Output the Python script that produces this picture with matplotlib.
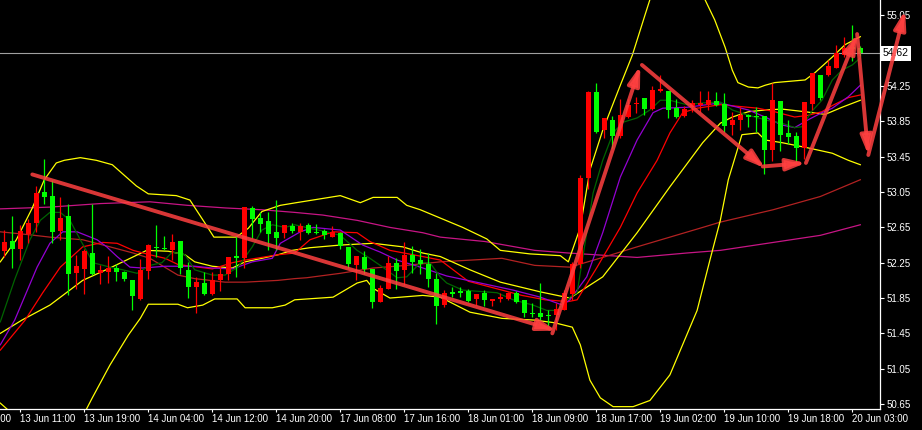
import numpy as np
import matplotlib
matplotlib.use("Agg")
import matplotlib.pyplot as plt
import matplotlib.transforms as mtransforms

# hourly bars, MT4 style colours: red = close above open, green = close below open
OPEN = [52.38, 52.50, 52.40, 52.58, 52.70, 53.05, 53.01, 52.61, 52.78, 52.13,
        52.18, 52.36, 52.13, 52.15, 52.19, 52.14, 52.06, 51.84, 52.16, 52.43,
        52.41, 52.39, 52.50, 52.17, 51.98, 52.02, 51.90, 52.06, 52.12, 52.33,
        52.30, 52.87, 52.76, 52.72, 52.60, 52.59, 52.67, 52.60, 52.68, 52.60,
        52.61, 52.54, 52.59, 52.43, 52.22, 52.32, 52.18, 51.81, 51.95, 52.25,
        52.17, 52.34, 52.28, 52.23, 52.07, 51.77, 51.92, 51.93, 51.93, 51.84,
        51.91, 51.82, 51.84, 51.84, 51.91, 51.83, 51.68, 51.68, 51.66, 51.66,
        51.72, 51.90, 52.24, 53.21, 54.18, 53.75, 53.87, 53.69, 53.90, 54.05,
        54.11, 53.99, 54.20, 54.19, 54.00, 53.91, 54.01, 54.04, 54.04, 54.08,
        54.05, 53.81, 53.87, 53.92, 53.91, 53.91, 53.53, 54.08, 53.72, 53.68,
        53.55, 54.05, 54.38, 54.38, 54.45, 54.60, 54.69, 54.68]
HIGH = [52.62, 52.78, 52.68, 52.74, 53.12, 53.43, 53.19, 52.99, 52.92, 52.34,
        52.41, 52.92, 52.22, 52.33, 52.24, 52.16, 52.06, 52.29, 52.46, 52.68,
        52.55, 52.58, 52.50, 52.26, 52.09, 52.15, 52.14, 52.21, 52.31, 52.56,
        52.88, 52.89, 52.82, 52.82, 52.96, 52.68, 52.70, 52.70, 52.70, 52.69,
        52.63, 52.67, 52.60, 52.43, 52.33, 52.38, 52.18, 52.00, 52.33, 52.30,
        52.48, 52.44, 52.40, 52.36, 52.13, 51.94, 51.98, 51.98, 51.95, 51.90,
        51.94, 51.84, 51.91, 51.92, 51.93, 51.83, 51.79, 52.02, 51.72, 51.79,
        51.94, 52.26, 53.24, 54.19, 54.29, 53.89, 53.91, 54.10, 54.10, 54.13,
        54.11, 54.25, 54.38, 54.19, 54.10, 54.02, 54.09, 54.19, 54.20, 54.18,
        54.17, 53.96, 54.01, 53.94, 54.01, 53.91, 54.28, 54.08, 53.87, 53.73,
        54.07, 54.40, 54.38, 54.55, 54.72, 54.81, 54.94, 54.70]
LOW = [52.32, 52.19, 52.28, 52.47, 52.60, 52.92, 52.47, 52.51, 51.88, 51.95,
       51.90, 52.11, 52.01, 52.02, 52.04, 52.04, 51.72, 51.83, 52.07, 52.32,
       52.39, 52.28, 52.12, 51.85, 51.68, 51.89, 51.89, 51.93, 52.05, 52.09,
       52.19, 52.53, 52.60, 52.39, 52.39, 52.53, 52.59, 52.51, 52.58, 52.58,
       52.52, 52.54, 52.40, 52.19, 52.05, 52.12, 51.74, 51.80, 51.95, 51.95,
       52.00, 52.13, 52.12, 51.97, 51.56, 51.75, 51.86, 51.86, 51.81, 51.77,
       51.76, 51.76, 51.81, 51.83, 51.79, 51.64, 51.64, 51.60, 51.53, 51.49,
       51.71, 51.83, 52.19, 53.09, 53.72, 53.66, 53.55, 53.66, 53.89, 53.95,
       53.92, 53.98, 54.18, 53.89, 53.89, 53.90, 53.96, 53.96, 53.98, 54.03,
       53.73, 53.70, 53.75, 53.79, 53.73, 53.26, 53.40, 53.51, 53.59, 53.39,
       53.43, 53.98, 54.09, 54.36, 54.45, 54.58, 54.53, 54.59]
CLOSE = [52.49, 52.41, 52.61, 52.70, 53.04, 52.99, 52.60, 52.76, 52.12, 52.21,
         52.38, 52.12, 52.17, 52.19, 52.14, 52.07, 51.87, 52.17, 52.45, 52.42,
         52.40, 52.48, 52.19, 51.97, 52.03, 51.90, 52.06, 52.12, 52.31, 52.30,
         52.88, 52.74, 52.69, 52.58, 52.53, 52.68, 52.61, 52.67, 52.59, 52.59,
         52.56, 52.60, 52.44, 52.24, 52.33, 52.18, 51.81, 51.96, 52.25, 52.16,
         52.34, 52.26, 52.23, 52.07, 51.76, 51.91, 51.90, 51.91, 51.82, 51.90,
         51.83, 51.84, 51.86, 51.91, 51.81, 51.68, 51.67, 51.64, 51.65, 51.73,
         51.91, 52.24, 53.21, 54.18, 53.73, 53.89, 53.69, 53.92, 54.04, 54.06,
         53.99, 54.21, 54.21, 53.98, 53.90, 53.99, 54.06, 54.06, 54.09, 54.04,
         53.80, 53.87, 53.92, 53.90, 53.90, 53.53, 54.09, 53.70, 53.67, 53.55,
         54.07, 54.40, 54.12, 54.48, 54.62, 54.68, 54.67, 54.62]

LAST_PRICE = 54.62

# indicator lines: (bar position, price)
BB_UP_X = [-0.5, 1.5, 3.5, 5.0, 6.5, 7.5, 9.5, 11.5, 13.5, 15.0, 16.5, 18.0, 21.5,
           23.2, 25.0, 26.2, 29.0, 30.5, 32.2, 34.5, 36.5, 42.0, 44.5, 46.1, 49.1,
           50.3, 52.0, 57.3, 60.3, 62.0, 65.7, 69.5, 70.5, 72.0, 73.2, 74.8, 77.0,
           78.5, 80.1, 80.7, 83.5, 87.0, 88.8, 90.1, 91.0, 91.7, 93.0, 94.2, 95.1,
           96.3, 100.1, 101.3, 103.5, 105.1, 107.0]
BB_UP_Y = [52.26, 52.51, 52.87, 53.19, 53.38, 53.41, 53.44, 53.41, 53.36, 53.24,
           53.12, 53.03, 53.01, 52.96, 52.71, 52.54, 52.54, 52.64, 52.83, 52.90,
           52.93, 53.01, 52.93, 52.99, 52.99, 52.90, 52.85, 52.65, 52.52, 52.39,
           52.35, 52.33, 52.26, 52.65, 53.30, 53.75, 54.26, 54.60, 55.06, 55.23,
           55.68, 55.34, 55.00, 54.69, 54.43, 54.29, 54.24, 54.23, 54.26, 54.29,
           54.32, 54.40, 54.58, 54.72, 54.81]
BB_MID_X = [-0.5, 2.2, 5.7, 9.8, 13.2, 17.8, 20.5, 22.6, 23.8, 26.0, 28.5, 30.1,
            32.2, 34.2, 36.0, 38.2, 42.0, 46.1, 49.8, 52.3, 54.5, 58.2, 62.0, 67.0,
            70.7, 74.8, 79.1, 83.2, 87.3, 89.5, 91.0, 93.0, 95.1, 97.2, 100.1,
            102.6, 104.7, 107.0]
BB_MID_Y = [51.45, 51.60, 51.77, 52.05, 52.19, 52.39, 52.38, 52.34, 52.26, 52.21,
            52.19, 52.26, 52.30, 52.34, 52.39, 52.42, 52.45, 52.47, 52.43, 52.36,
            52.32, 52.17, 52.03, 51.92, 51.85, 52.09, 52.59, 53.11, 53.61, 53.83,
            53.90, 53.96, 53.98, 53.99, 53.96, 53.93, 54.01, 54.09]
BB_LO_X = [-0.5, 0.5, 4.5, 8.2, 10.2, 11.0, 13.2, 15.5, 17.0, 18.0, 21.7, 22.9,
           24.8, 26.3, 29.1, 30.1, 33.5, 35.1, 36.3, 41.1, 44.1, 45.3, 46.1, 48.2,
           52.3, 54.5, 58.2, 62.2, 66.3, 68.8, 71.0, 72.0, 73.2, 74.5, 76.1, 78.6,
           80.7, 83.2, 86.6, 88.2, 89.5, 90.5, 92.2, 94.2, 95.1, 97.2, 100.5,
           103.5, 105.5, 107.0]
BB_LO_Y = [50.66, 50.58, 50.24, 50.36, 50.58, 50.72, 51.09, 51.43, 51.62, 51.78,
           51.78, 51.74, 51.77, 51.84, 51.84, 51.74, 51.74, 51.77, 51.83, 51.86,
           52.02, 52.05, 51.96, 51.85, 51.88, 51.86, 51.69, 51.62, 51.60, 51.57,
           51.52, 51.32, 50.92, 50.72, 50.62, 50.62, 50.69, 50.98, 51.71, 52.28,
           52.73, 53.19, 53.70, 53.72, 53.64, 53.61, 53.55, 53.49, 53.41, 53.36]
MA_FAST_X = [-0.5, 1.3, 3.2, 4.5, 5.7, 7.0, 8.2, 9.5, 11.1, 13.2, 14.8, 16.6, 18.2,
             19.7, 21.0, 22.6, 23.8, 26.0, 27.6, 29.2, 31.0, 32.2, 33.5, 35.1, 36.3,
             38.2, 39.8, 42.0, 44.1, 45.7, 47.3, 49.1, 50.3, 52.0, 53.2, 54.5, 55.3,
             57.3, 61.6, 63.6, 66.1, 67.8, 69.1, 70.7, 71.6, 73.6, 74.8, 76.1, 77.3,
             79.1, 80.7, 82.0, 83.2, 85.3, 87.3, 89.5, 91.0, 93.0, 95.5, 97.2, 98.8,
             99.7, 100.9, 102.2, 103.5, 104.7, 106.0, 107.0]
MA_FAST_Y = [51.58, 52.06, 52.51, 52.73, 52.82, 52.82, 52.73, 52.51, 52.25, 52.20,
             52.17, 52.13, 52.22, 52.25, 52.37, 52.34, 52.17, 52.11, 52.11, 52.20,
             52.43, 52.62, 52.68, 52.65, 52.68, 52.64, 52.61, 52.56, 52.39, 52.30,
             52.20, 52.08, 52.09, 52.25, 52.25, 52.09, 52.02, 51.94, 51.91, 51.83,
             51.77, 51.71, 51.71, 51.86, 51.91, 53.04, 53.41, 53.72, 53.84, 53.89,
             53.98, 54.09, 54.09, 54.04, 54.06, 54.07, 53.98, 53.92, 53.86, 53.83,
             53.78, 53.79, 53.96, 54.09, 54.32, 54.43, 54.49, 54.57]
MA_MID_X = [-0.5, 1.3, 4.1, 5.7, 7.3, 9.1, 11.6, 12.8, 14.1, 15.7, 17.3, 20.1, 23.8,
            26.0, 28.5, 31.0, 33.5, 34.5, 37.0, 38.6, 42.0, 44.8, 47.0, 49.1, 52.0,
            55.3, 59.5, 63.6, 67.0, 69.8, 70.7, 72.8, 74.8, 77.0, 79.1, 81.1, 82.3,
            85.3, 89.5, 93.0, 95.1, 97.2, 98.8, 100.5, 102.2, 103.5, 105.5, 107.0]
MA_MID_Y = [51.32, 51.60, 52.20, 52.47, 52.60, 52.60, 52.51, 52.43, 52.32, 52.20,
            52.19, 52.21, 52.21, 52.19, 52.18, 52.26, 52.30, 52.47, 52.60, 52.65,
            52.62, 52.45, 52.37, 52.28, 52.20, 52.10, 52.02, 51.94, 51.86, 51.77,
            51.83, 52.09, 52.59, 53.22, 53.64, 53.95, 54.00, 54.01, 54.06, 53.98,
            53.90, 53.81, 53.78, 53.87, 53.95, 54.00, 54.13, 54.26]
MA_RED_X = [-0.5, 2.6, 4.8, 7.0, 9.8, 12.3, 14.1, 16.1, 18.2, 20.1, 21.7, 26.0, 28.5,
            30.1, 34.2, 36.3, 38.2, 41.1, 44.1, 45.7, 48.2, 52.3, 54.5, 58.0, 62.2,
            64.7, 67.6, 70.5, 71.6, 74.1, 77.0, 79.1, 81.6, 83.2, 84.8, 86.6, 89.5,
            94.2, 96.3, 98.8, 100.5, 102.2, 103.5, 105.5, 107.0]
MA_RED_Y = [51.26, 51.60, 51.91, 52.20, 52.43, 52.48, 52.47, 52.39, 52.34, 52.30,
            52.23, 52.18, 52.25, 52.28, 52.34, 52.36, 52.51, 52.60, 52.59, 52.49,
            52.39, 52.32, 52.28, 52.04, 51.94, 51.88, 51.83, 51.81, 51.83, 52.20,
            52.65, 53.04, 53.41, 53.72, 53.95, 54.00, 54.04, 54.00, 53.96, 53.90,
            53.92, 53.96, 54.03, 54.12, 54.15]
MA_BROWN_X = [-0.5, 2.8, 5.7, 9.8, 13.2, 16.1, 18.2, 21.7, 23.8, 27.6, 30.1, 34.2,
              36.3, 37.8, 42.0, 46.1, 50.3, 54.5, 62.2, 66.3, 70.7, 74.8, 79.1, 83.2,
              87.3, 89.5, 96.1, 102.0, 107.0]
MA_BROWN_Y = [52.60, 52.57, 52.54, 52.51, 52.43, 52.36, 52.30, 52.11, 52.07, 52.03,
              52.03, 52.05, 52.07, 52.08, 52.13, 52.19, 52.22, 52.26, 52.30, 52.22,
              52.20, 52.31, 52.43, 52.54, 52.65, 52.71, 52.85, 53.00, 53.19]
MA_SLOW_X = [-0.5, 5.7, 12.0, 18.2, 22.9, 27.7, 32.2, 36.3, 39.8, 44.1, 48.2, 52.3,
             54.5, 60.1, 66.3, 70.5, 79.1, 85.3, 89.5, 102.0, 107.0]
MA_SLOW_Y = [52.86, 52.88, 52.92, 52.94, 52.90, 52.87, 52.85, 52.82, 52.79, 52.73,
             52.65, 52.59, 52.54, 52.49, 52.39, 52.36, 52.31, 52.36, 52.39, 52.56,
             52.68]

# hand-drawn arrows on the chart: start / end as (bar, price)
ARROW_X0 = [3.5, 68.5, 79.7, 94.8, 100.2, 106.6, 108.0]
ARROW_Y0 = [53.25, 51.45, 54.49, 53.34, 53.38, 54.84, 53.47]
ARROW_X1 = [69.0, 79.5, 95.1, 100.2, 106.6, 108.0, 112.6]
ARROW_Y1 = [51.48, 54.48, 53.32, 53.38, 54.84, 53.47, 55.11]

# time axis labels (bar index -> label)
TIME_IDX = [-6, 2, 10, 18, 26, 34, 42, 50, 58, 66, 74, 82, 90, 98, 106]
TIME_LBL = ["13 Jun 03:00", "13 Jun 11:00", "13 Jun 19:00", "14 Jun 04:00",
            "14 Jun 12:00", "14 Jun 20:00", "17 Jun 08:00", "17 Jun 16:00",
            "18 Jun 01:00", "18 Jun 09:00", "18 Jun 17:00", "19 Jun 02:00",
            "19 Jun 10:00", "19 Jun 18:00", "20 Jun 03:00"]
PRICE_TICKS = [55.05, 54.25, 53.85, 53.45, 53.05, 52.65, 52.25, 51.85, 51.45,
               51.05, 50.65]

plt.rcParams['font.family'] = ['Liberation Sans', 'DejaVu Sans']

fig = plt.figure(figsize=(9.22, 4.30), dpi=100, facecolor='black')
ax = fig.add_axes([0, 20.7 / 430, 880 / 922, 409.3 / 430], facecolor='black')
ax.set_xlim(-0.5375, 109.46)
ax.set_ylim(50.590, 55.2255)

# indicators
ax.plot(MA_SLOW_X, MA_SLOW_Y, color='#c71585', lw=0.9)
ax.plot(MA_BROWN_X, MA_BROWN_Y, color='#b22222', lw=0.9)
ax.plot(BB_UP_X, BB_UP_Y, color='#ffff00', lw=0.9)
ax.plot(BB_MID_X, BB_MID_Y, color='#ffff00', lw=0.9)
ax.plot(BB_LO_X, BB_LO_Y, color='#ffff00', lw=0.9)
ax.plot(MA_RED_X, MA_RED_Y, color='#ff0000', lw=0.9)
ax.plot(MA_MID_X, MA_MID_Y, color='#9400d3', lw=0.9)
ax.plot(MA_FAST_X, MA_FAST_Y, color='#006400', lw=0.9)

# candles
o = np.array(OPEN)
c = np.array(CLOSE)
idx = np.arange(len(o))
col = np.where(c >= o, '#ff0000', '#00ff00')
ax.vlines(idx, LOW, HIGH, colors=col, lw=0.9, zorder=3)
ax.bar(idx, np.maximum(np.abs(c - o), 0.012), bottom=np.minimum(o, c),
       width=0.64, color=col, linewidth=0, zorder=3)

# last price line
ax.axhline(LAST_PRICE, color='#a0a0a0', lw=0.8, zorder=2)

# arrows
for x0, y0, x1, y1 in zip(ARROW_X0, ARROW_Y0, ARROW_X1, ARROW_Y1):
    ax.annotate('', xy=(x1, y1), xytext=(x0, y0), annotation_clip=False,
                arrowprops=dict(arrowstyle='-|>,head_length=0.8,head_width=0.25',
                                color=(1.0, 0.25, 0.25, 0.85), lw=2.8,
                                mutation_scale=14, shrinkA=0, shrinkB=0),
                zorder=5)

# axes styling
for s in ['left', 'top']:
    ax.spines[s].set_visible(False)
for s in ['right', 'bottom']:
    ax.spines[s].set_color('white')
    ax.spines[s].set_linewidth(0.9)

ax.yaxis.tick_right()
ax.set_yticks(PRICE_TICKS)
ax.set_yticklabels([f"{v:.2f}" for v in PRICE_TICKS])
ax.tick_params(axis='y', colors='white', labelcolor='white', length=3,
               width=0.8, labelsize=7, pad=2)
ax.set_xticks([i for i in TIME_IDX if i >= 0])
ax.set_xticklabels([])
ax.tick_params(axis='x', colors='white', length=2.5, width=0.8)

tr = mtransforms.blended_transform_factory(ax.transData, ax.transAxes)
for i, lbl in zip(TIME_IDX, TIME_LBL):
    ax.text(i - 0.1, -0.024, lbl, transform=tr, ha='left', va='center',
            color='white', fontsize=7, clip_on=False)

# current price tag
tr2 = mtransforms.blended_transform_factory(ax.transAxes, ax.transData)
ax.text(1.003, LAST_PRICE, f"{LAST_PRICE:.2f}", transform=tr2, ha='left',
        va='center', color='black', fontsize=7.5, clip_on=False,
        bbox=dict(boxstyle='square,pad=0.25', fc='white', ec='none'))

fig.savefig('out.png', dpi=100, facecolor='black')
